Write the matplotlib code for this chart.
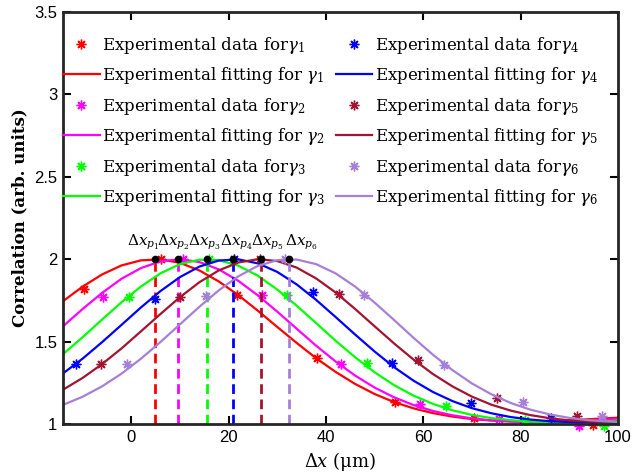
import matplotlib
matplotlib.use('Agg')
import matplotlib.pyplot as plt

plt.rcParams['font.family'] = 'DejaVu Serif'
plt.rcParams['mathtext.fontset'] = 'dejavuserif'

# ---------- Data ---------- #

colors = ['#FF0000', '#FF00FF', '#00FF00', '#0000FF', '#A2142F', '#A680D8']

# peak positions (black dots / dashed lines)
peaks = [4.8, 9.7, 15.6, 20.9, 26.6, 32.5]
peak_y = [2, 2, 2, 2, 2, 2]

# fitted curves, sampled on a common x grid
fit_x = [-14, -10, -6, -2, 2, 6, 10, 14, 18, 22, 26, 30, 34, 38, 42, 46,
         50, 54, 58, 62, 66, 70, 74, 78, 82, 86, 90, 94, 98, 100]
fit_g1 = [1.745, 1.833, 1.907, 1.962, 1.993, 1.999, 1.978, 1.932, 1.865, 1.782,
          1.688, 1.589, 1.492, 1.399, 1.316, 1.243, 1.182, 1.133, 1.095, 1.066,
          1.045, 1.030, 1.021, 1.016, 1.015, 1.018, 1.023, 1.029, 1.035, 1.038]
fit_g2 = [1.593, 1.697, 1.795, 1.881, 1.946, 1.987, 2.000, 1.983, 1.938, 1.869,
          1.781, 1.682, 1.578, 1.475, 1.379, 1.294, 1.221, 1.162, 1.115, 1.079,
          1.053, 1.034, 1.022, 1.015, 1.012, 1.012, 1.015, 1.020, 1.027, 1.030]
fit_g3 = [1.424, 1.526, 1.633, 1.738, 1.834, 1.914, 1.970, 1.997, 1.994, 1.961,
          1.900, 1.816, 1.718, 1.612, 1.505, 1.405, 1.314, 1.236, 1.172, 1.122,
          1.083, 1.055, 1.036, 1.023, 1.015, 1.010, 1.010, 1.012, 1.017, 1.020]
fit_g4 = [1.307, 1.396, 1.496, 1.601, 1.707, 1.806, 1.891, 1.955, 1.992, 1.999,
          1.975, 1.923, 1.847, 1.753, 1.649, 1.543, 1.440, 1.345, 1.263, 1.194,
          1.139, 1.096, 1.065, 1.042, 1.027, 1.017, 1.012, 1.010, 1.011, 1.013]
fit_g5 = [1.208, 1.279, 1.363, 1.458, 1.562, 1.667, 1.769, 1.860, 1.932, 1.980,
          2.000, 1.989, 1.949, 1.883, 1.798, 1.698, 1.593, 1.489, 1.391, 1.303,
          1.228, 1.166, 1.117, 1.081, 1.054, 1.035, 1.022, 1.015, 1.011, 1.010]
fit_g6 = [1.116, 1.165, 1.228, 1.305, 1.396, 1.497, 1.604, 1.711, 1.811, 1.896,
          1.959, 1.994, 1.998, 1.970, 1.914, 1.834, 1.737, 1.631, 1.523, 1.420,
          1.327, 1.246, 1.180, 1.127, 1.087, 1.058, 1.037, 1.023, 1.015, 1.012]
fit_y = [fit_g1, fit_g2, fit_g3, fit_g4, fit_g5, fit_g6]

# experimental points
data_x1 = [-9.75, 6.1, 21.7, 38.1, 54.1, 70.4, 94.8]
data_y1 = [1.82, 2.0, 1.78, 1.40, 1.134, 1.037, 0.995]
data_x2 = [-5.7, 10.7, 26.8, 43.0, 59.3, 75.5, 91.9]
data_y2 = [1.77, 2.0, 1.78, 1.366, 1.12, 1.03, 0.99]
data_x3 = [-0.45, 15.9, 32.1, 48.5, 64.7, 80.9, 97.2]
data_y3 = [1.77, 2.0, 1.78, 1.37, 1.11, 1.024, 0.99]
data_x4 = [-11.4, 4.9, 21.2, 37.3, 53.6, 69.9, 86.2]
data_y4 = [1.364, 1.756, 2.0, 1.80, 1.37, 1.126, 1.035]
data_x5 = [-6.1, 10.0, 26.4, 42.7, 58.9, 75.2, 91.5]
data_y5 = [1.364, 1.77, 2.0, 1.787, 1.39, 1.157, 1.05]
data_x6 = [-0.8, 15.3, 31.6, 47.8, 64.2, 80.5, 96.8]
data_y6 = [1.364, 1.776, 2.0, 1.78, 1.355, 1.132, 1.05]
data_x = [data_x1, data_x2, data_x3, data_x4, data_x5, data_x6]
data_y = [data_y1, data_y2, data_y3, data_y4, data_y5, data_y6]

# x where each Delta x_p label starts
lab_x = [-0.9, 5.25, 11.6, 18.2, 24.7, 31.7]

xticks = [0, 20, 40, 60, 80, 100]
yticks = [1, 1.5, 2, 2.5, 3, 3.5]
ytick_labels = ['1', '1.5', '2', '2.5', '3', '3.5']

# ---------- Plot ---------- #

fig = plt.figure(figsize=(6.33, 4.76), dpi=100)
ax = fig.add_axes([63/633, 1-424/476, (618-63)/633, (424-12)/476])

handles = []
labels = []
for k in range(6):
    ln, = ax.plot(fit_x, fit_y[k], color=colors[k], lw=1.6)
    mk, = ax.plot(data_x[k], data_y[k], ls='none', marker=(8, 2, 0), ms=7, mew=1,
                  color=colors[k], clip_on=False)
    ax.plot([peaks[k], peaks[k]], [1, peak_y[k]], color=colors[k], lw=2, dashes=(3.5, 2))
    handles += [mk, ln]
    labels += ['Experimental data for$\\gamma_%d$' % (k+1),
               'Experimental fitting for $\\gamma_%d$' % (k+1)]

ax.plot(peaks, peak_y, 'o', color='k', ms=4.5, zorder=5)
for k in range(6):
    ax.text(lab_x[k], 2.085, r'$\Delta x_{p_%d}$' % (k+1), fontsize=11,
            ha='left', va='baseline')

ax.set_xlim(-14, 100)
ax.set_ylim(1, 3.5)
ax.set_xticks(xticks)
ax.set_xticklabels([str(t) for t in xticks], fontfamily='Liberation Sans', fontsize=12)
ax.set_yticks(yticks)
ax.set_yticklabels(ytick_labels, fontfamily='Liberation Sans', fontsize=12)
ax.tick_params(direction='in', length=6, width=1.5, top=True, right=True, pad=4)
for sp in ax.spines.values():
    sp.set_linewidth(2)
    sp.set_color('#262626')

ax.set_xlabel(r'$\mathit{\Delta x}$ ($\mathrm{\mu}$m)', fontsize=13)
ax.set_ylabel('Correlation (arb. units)', fontweight='bold', fontsize=12)

ax.legend(handles, labels, ncol=2, loc='upper left', bbox_to_anchor=(0, 0.945),
          frameon=False, fontsize=12, handlelength=2.2, handletextpad=0.15,
          labelspacing=0.57, columnspacing=0.6, borderaxespad=0, borderpad=0)

fig.savefig('out.png', dpi=100)
